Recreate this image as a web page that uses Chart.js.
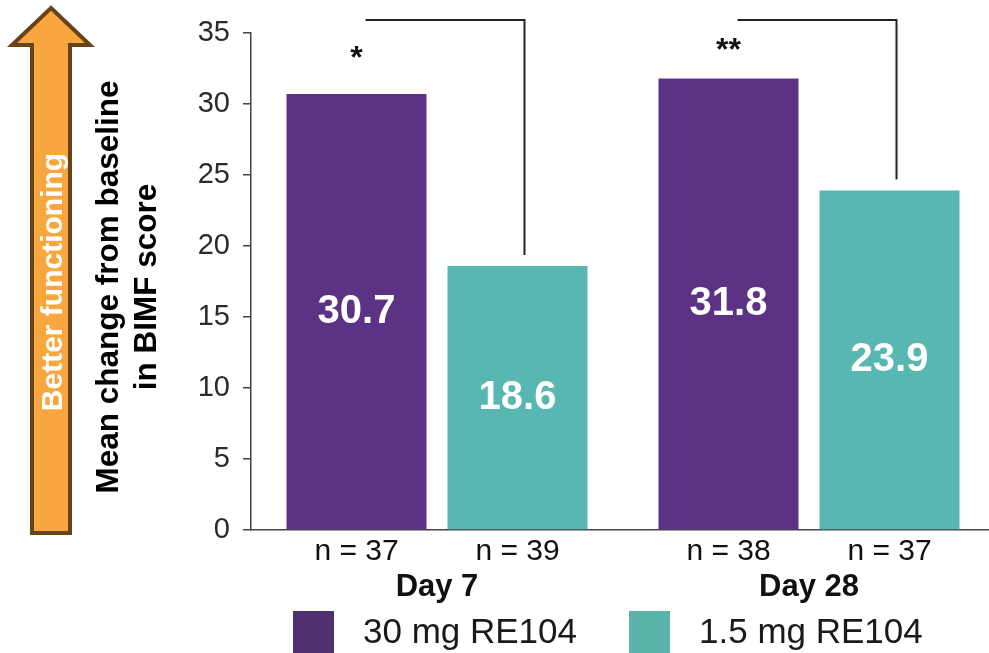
<!DOCTYPE html>
<html>
<head>
<meta charset="utf-8">
<script src="https://cdn.jsdelivr.net/npm/chart.js@4/dist/chart.umd.min.js"></script>
<style>
  html, body { margin: 0; padding: 0; background: #ffffff; overflow: hidden; }
  #wrap { width: 989px; height: 653px; position: relative; overflow: hidden; }
  #chart { display: block; }
</style>
</head>
<body>
<div id="wrap"><canvas id="chart" width="995" height="653"></canvas></div>
<script>
// Mean change from baseline in BIMF score, by visit and dose group
const categories = ['Day 7', 'Day 28'];
const seriesLabels = ['30 mg RE104', '1.5 mg RE104'];
const dose30 = [30.7, 31.8];
const dose15 = [18.6, 23.9];
const n30 = [37, 38];
const n15 = [39, 37];
const significance = ['*', '**'];
const yMin = 0;
const yMax = 35;
const yStep = 5;
const yTitle = ['Mean change from baseline', 'in BIMF score'];
const arrowLabel = 'Better functioning';

const FONT = "'Liberation Sans', Arial, Helvetica, sans-serif";
const PURPLE = '#5c3384';
const TEAL = '#58b7b1';
const LEGEND_COLORS = ['#50306f', '#5ab4aa'];
const groupCounts = [n30, n15];

const overlay = {
  id: 'overlay',
  afterDraw(chart) {
    const ctx = chart.ctx;
    const area = chart.chartArea;
    ctx.save();

    // Upward arrow on the far left
    ctx.beginPath();
    ctx.moveTo(51, 8);
    ctx.lineTo(90, 45);
    ctx.lineTo(70, 45);
    ctx.lineTo(70, 533);
    ctx.lineTo(32, 533);
    ctx.lineTo(32, 45);
    ctx.lineTo(12, 45);
    ctx.closePath();
    ctx.fillStyle = '#f8a73e';
    ctx.fill();
    ctx.lineWidth = 4;
    ctx.lineJoin = 'miter';
    ctx.strokeStyle = '#674318';
    ctx.stroke();

    ctx.save();
    ctx.translate(62, 282);
    ctx.rotate(-Math.PI / 2);
    ctx.fillStyle = '#ffffff';
    ctx.font = "bold 30px " + FONT;
    ctx.textAlign = 'center';
    ctx.textBaseline = 'alphabetic';
    ctx.fillText(arrowLabel, 0, 0);
    ctx.restore();

    // Rotated two-line y axis title
    ctx.save();
    ctx.translate(0, 287);
    ctx.rotate(-Math.PI / 2);
    ctx.fillStyle = '#000000';
    ctx.font = "bold 31.5px " + FONT;
    ctx.textAlign = 'center';
    ctx.textBaseline = 'alphabetic';
    ctx.fillText(yTitle[0], 0, 118);
    ctx.fillText(yTitle[1], 0, 156);
    ctx.restore();

    const metas = [chart.getDatasetMeta(0), chart.getDatasetMeta(1)];

    // Values inside the bars and group sizes under them
    metas.forEach((meta, di) => {
      const values = chart.data.datasets[di].data;
      meta.data.forEach((bar, i) => {
        const props = bar.getProps(['x', 'y', 'base'], true);
        ctx.fillStyle = '#ffffff';
        ctx.font = "bold 40px " + FONT;
        ctx.textAlign = 'center';
        ctx.textBaseline = 'middle';
        ctx.fillText(values[i].toFixed(1), props.x, (props.y + props.base) / 2);

        ctx.fillStyle = '#111111';
        ctx.font = "30px " + FONT;
        ctx.textBaseline = 'alphabetic';
        ctx.fillText('n = ' + groupCounts[di][i], props.x, 560);
      });
    });

    // Significance brackets
    const lineY = area.top - 13;
    categories.forEach((c, i) => {
      const hi = metas[0].data[i].getProps(['x', 'y'], true);
      const lo = metas[1].data[i].getProps(['x', 'y'], true);
      const x1 = hi.x + 9;
      const x2 = lo.x + 7;
      ctx.beginPath();
      ctx.moveTo(x1, lineY);
      ctx.lineTo(x2, lineY);
      ctx.lineTo(x2, lo.y - 11);
      ctx.lineWidth = 2;
      ctx.strokeStyle = '#222222';
      ctx.lineJoin = 'miter';
      ctx.stroke();

      const starY = (lineY + hi.y) / 2 - 7;
      ctx.fillStyle = '#111111';
      ctx.font = "bold 32px " + FONT;
      ctx.textAlign = 'center';
      ctx.textBaseline = 'alphabetic';
      ctx.fillText(significance[i], hi.x, starY + 18);
    });

    // Legend
    const legendX = [293, 629];
    seriesLabels.forEach((label, i) => {
      ctx.fillStyle = LEGEND_COLORS[i];
      ctx.fillRect(legendX[i], 611, 41, 42);
      ctx.fillStyle = '#1a1a1a';
      ctx.font = "35px " + FONT;
      ctx.textAlign = 'left';
      ctx.textBaseline = 'alphabetic';
      ctx.fillText(label, legendX[i] + 70, 643);
    });

    ctx.restore();
  }
};

new Chart(document.getElementById('chart'), {
  type: 'bar',
  data: {
    labels: categories,
    datasets: [
      { label: seriesLabels[0], data: dose30, backgroundColor: PURPLE,
        categoryPercentage: 0.8656, barPercentage: 0.8696 },
      { label: seriesLabels[1], data: dose15, backgroundColor: TEAL,
        categoryPercentage: 0.8656, barPercentage: 0.8696 }
    ]
  },
  options: {
    responsive: false,
    animation: false,
    devicePixelRatio: 1,
    layout: { padding: { top: 33, left: 0, right: 0, bottom: 0 } },
    plugins: {
      legend: { display: false },
      tooltip: { enabled: false }
    },
    scales: {
      x: {
        grid: { display: false, drawTicks: false },
        border: { display: true, color: '#444444', width: 1.5 },
        ticks: {
          color: '#111111',
          font: { family: FONT, size: 31, weight: 'bold' },
          padding: 39
        },
        afterFit(scale) { scale.height = 123; }
      },
      y: {
        min: yMin,
        max: yMax,
        ticks: {
          stepSize: yStep,
          color: '#2b2b2b',
          font: { family: FONT, size: 29 },
          padding: 13
        },
        grid: {
          display: true,
          drawOnChartArea: false,
          drawTicks: true,
          tickLength: 8,
          color: '#444444',
          lineWidth: 1.5
        },
        border: { display: true, color: '#444444', width: 1.5 },
        afterFit(scale) { scale.width = 251; }
      }
    }
  },
  plugins: [overlay]
});
</script>
</body>
</html>
